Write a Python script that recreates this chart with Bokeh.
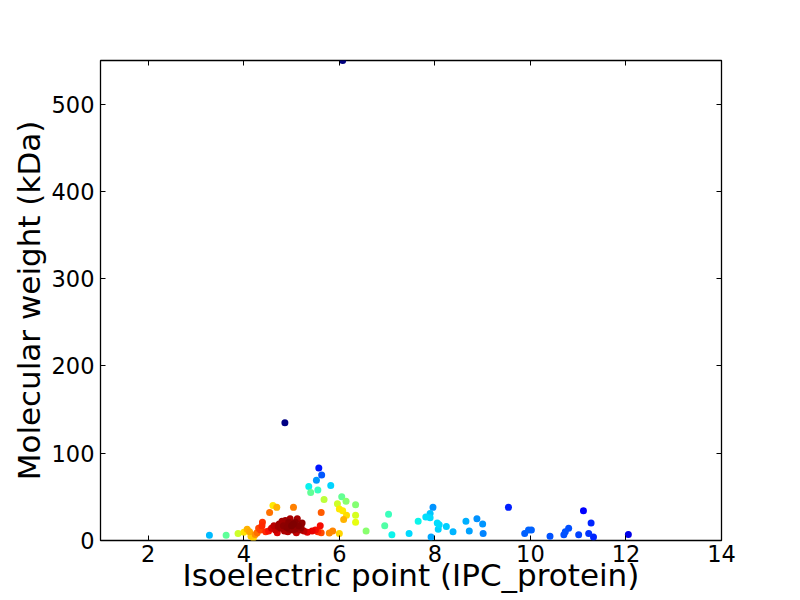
import numpy as np
from bokeh.plotting import figure
from bokeh.models import LinearAxis, FixedTicker, ColumnDataSource, Range1d
from bokeh.embed import file_html
from bokeh.resources import INLINE

# ---- data ----
pi_values = [
    3.28, 3.63, 3.88, 4.00, 4.07, 4.12, 4.15, 4.20, 4.24, 4.28,
    4.31, 4.35, 4.38, 4.39, 4.46, 4.52, 4.58, 4.54, 4.61, 4.69,
    4.63, 4.66, 4.70, 4.74, 4.77, 4.80, 4.83, 4.85, 4.87, 4.90,
    4.94, 4.97, 5.00, 5.02, 5.04, 5.07, 5.12, 5.15, 5.10, 5.22,
    5.18, 5.26, 5.33, 5.43, 4.86, 5.04, 5.57, 5.63, 5.52, 5.36,
    5.40, 5.55, 5.82, 5.68, 6.05, 6.14, 5.96, 6.34, 6.00, 6.07,
    6.15, 6.09, 6.34, 6.34, 5.62, 6.56, 6.00, 5.79, 5.86, 5.55,
    5.60, 5.50, 5.62, 7.03, 6.95, 7.10, 7.46, 7.65, 7.81, 7.90,
    7.90, 7.96, 8.05, 8.07, 8.09, 7.92, 8.24, 8.38, 8.65, 8.72,
    8.88, 9.00, 9.01, 9.54, 9.88, 9.96, 10.02, 10.41, 10.70, 10.73,
    10.80, 11.01, 11.11, 11.27, 11.22, 11.32, 12.05, 6.07,
    4.92, 5.08, 4.95, 4.72, 5.20,
]
mw_values = [
    6, 6, 8, 9.5, 13, 10, 5, 3, 7, 9,
    14, 12, 17, 21, 10, 11, 14, 32, 40, 38,
    17, 12, 9, 19, 14, 22, 17, 11, 23, 15,
    21, 25, 17, 12, 19, 13, 25, 17, 9, 20,
    12, 11, 9.5, 11, 135, 38, 83, 75, 69, 62,
    55, 58, 63, 47, 50, 45, 42, 41, 36, 34,
    29, 24, 29, 21, 32, 11, 8, 8.5, 11, 10,
    17, 12, 9, 30, 17, 6.5, 8, 22, 27, 26,
    31, 38, 20, 13, 18, 4, 16, 10, 22, 11,
    25, 19, 8, 38, 8, 12, 12, 5, 6.5, 10,
    14, 6.5, 34, 20, 8, 4, 7, 550,
    10, 21, 13, 16, 15,
]
x_ticks = [2, 4, 6, 8, 10, 12, 14]
y_ticks = [0, 100, 200, 300, 400, 500]
x_label = "Isoelectric point (IPC_protein)"
y_label = "Molecular weight (kDa)"

# ---- point density (Gaussian KDE, Scott's rule) for colouring ----
x = np.array(pi_values, dtype=float)
y = np.array(mw_values, dtype=float)
xy = np.vstack([x, y])
n = xy.shape[1]
factor = n ** (-1.0 / 6.0)
cov = np.cov(xy) * factor ** 2
inv = np.linalg.inv(cov)
diff = xy[:, :, None] - xy[:, None, :]
energy = np.einsum('inm,ij,jnm->nm', diff, inv, diff)
dens = np.exp(-0.5 * energy).mean(axis=1)

t = (dens - dens.min()) / (dens.max() - dens.min())
r = np.interp(t, [0, 0.35, 0.66, 0.89, 1.0], [0, 0, 1, 1, 0.5])
g = np.interp(t, [0, 0.125, 0.375, 0.64, 0.91, 1.0], [0, 0, 1, 1, 0, 0])
b = np.interp(t, [0, 0.11, 0.34, 0.65, 1.0], [0.5, 1, 1, 0, 0])
colors = ["#%02x%02x%02x" % (int(round(rr * 255)), int(round(gg * 255)), int(round(bb * 255)))
          for rr, gg, bb in zip(r, g, b)]

order = np.argsort(dens)
src = ColumnDataSource(dict(
    x=x[order], y=y[order], color=[colors[i] for i in order]))

FONT = "DejaVu Sans"

p = figure(width=800, height=600, x_range=Range1d(1, 14), y_range=Range1d(0, 550),
           output_backend="svg", toolbar_location=None,
           min_border_left=100, min_border_right=79, min_border_top=60, min_border_bottom=60,
           x_axis_label=x_label, y_axis_label=y_label)
p.background_fill_color = "white"
p.border_fill_color = "white"
p.outline_line_color = "black"
p.outline_line_width = 1.3
p.grid.visible = False

p.scatter('x', 'y', source=src, size=7, fill_color='color', line_color=None)

for ax in p.xaxis:
    ax.ticker = FixedTicker(ticks=x_ticks)
for ax in p.yaxis:
    ax.ticker = FixedTicker(ticks=y_ticks)

for ax in list(p.xaxis) + list(p.yaxis):
    ax.axis_line_color = None
    ax.major_tick_in = 5
    ax.major_tick_out = 0
    ax.major_tick_line_width = 1
    ax.minor_tick_line_color = None
    ax.major_label_text_font = FONT
    ax.major_label_text_font_size = "22.5px"
    ax.major_label_text_color = "black"
    ax.axis_label_text_font = FONT
    ax.axis_label_text_font_size = "31px"
    ax.axis_label_text_font_style = "normal"
    ax.axis_label_text_color = "black"

p.xaxis.major_label_standoff = 4
p.xaxis.axis_label_standoff = -8
p.yaxis.major_label_standoff = 6
p.yaxis.axis_label_standoff = 2

top = LinearAxis(ticker=FixedTicker(ticks=x_ticks))
right = LinearAxis(ticker=FixedTicker(ticks=y_ticks))
for ax in (top, right):
    ax.axis_line_color = None
    ax.major_tick_in = 5
    ax.major_tick_out = 0
    ax.minor_tick_line_color = None
    ax.major_label_text_font_size = "0px"
    ax.major_label_text_color = None
p.add_layout(top, "above")
p.add_layout(right, "right")

open("out.html", "w").write(file_html(p, INLINE))
